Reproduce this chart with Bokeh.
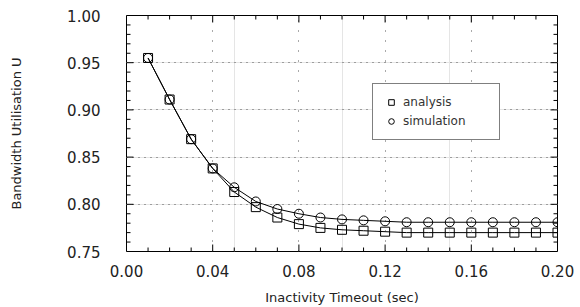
from bokeh.plotting import figure
from bokeh.models import (LinearAxis, Range1d, FixedTicker, Legend, LegendItem,
                          NumeralTickFormatter, Grid)
from bokeh.embed import file_html
from bokeh.resources import INLINE
import math

timeout = [0.01, 0.02, 0.03, 0.04, 0.05, 0.06, 0.07, 0.08, 0.09, 0.10,
           0.11, 0.12, 0.13, 0.14, 0.15, 0.16, 0.17, 0.18, 0.19, 0.20]
analysis = [0.955, 0.911, 0.869, 0.838, 0.813, 0.797, 0.786, 0.779, 0.775, 0.773,
            0.772, 0.771, 0.770, 0.770, 0.770, 0.770, 0.770, 0.770, 0.770, 0.770]
simulation = [0.955, 0.911, 0.869, 0.838, 0.818, 0.803, 0.795, 0.790, 0.786, 0.784,
              0.783, 0.782, 0.781, 0.781, 0.781, 0.781, 0.781, 0.781, 0.781, 0.781]
x_ticks = [0.00, 0.04, 0.08, 0.12, 0.16, 0.20]
y_ticks = [0.75, 0.80, 0.85, 0.90, 0.95, 1.00]
x_minor = [0.01, 0.02, 0.03, 0.05, 0.06, 0.07, 0.09, 0.10, 0.11,
           0.13, 0.14, 0.15, 0.17, 0.18, 0.19]
y_minor = [0.76, 0.77, 0.78, 0.79, 0.81, 0.82, 0.83, 0.84, 0.86, 0.87, 0.88, 0.89,
           0.91, 0.92, 0.93, 0.94, 0.96, 0.97, 0.98, 0.99]
x_lo, x_hi = 0.0, 0.2
y_lo, y_hi = 0.75, 1.0

FONT = "DejaVu Sans"

p = figure(frame_width=431, frame_height=236, output_backend="svg",
           toolbar_location=None, x_range=Range1d(x_lo, x_hi), y_range=Range1d(y_lo, y_hi),
           min_border_left=126, min_border_top=15, min_border_right=20, min_border_bottom=50,
           x_axis_location=None, y_axis_location=None)
p.outline_line_color = "black"
p.outline_line_width = 1
p.background_fill_color = "white"
p.border_fill_color = "white"

def make_axis(ticks):
    ax = LinearAxis(ticker=FixedTicker(ticks=ticks),
                    formatter=NumeralTickFormatter(format="0.00"))
    ax.major_tick_in = 0
    ax.major_tick_out = 0
    ax.minor_tick_in = 0
    ax.minor_tick_out = 0
    ax.axis_line_color = None
    ax.major_label_text_font = FONT
    ax.major_label_text_font_size = "15px"
    ax.major_label_text_color = "#222222"
    ax.axis_label_text_font = FONT
    ax.axis_label_text_font_size = "13px"
    ax.axis_label_text_font_style = "normal"
    ax.axis_label_text_color = "#222222"
    return ax

xb = make_axis(x_ticks)
xb.major_label_standoff = 13
xb.axis_label = "Inactivity Timeout (sec)"
xb.axis_label_standoff = 10
p.add_layout(xb, "below")

yl = make_axis(y_ticks)
yl.major_label_standoff = 26
yl.axis_label = "Bandwidth Utilisation U"
yl.axis_label_standoff = 40
p.add_layout(yl, "left")

gx = Grid(dimension=0, ticker=FixedTicker(ticks=x_ticks), grid_line_color="#555555",
          grid_line_dash="1 9", grid_line_width=1)
gy = Grid(dimension=1, ticker=FixedTicker(ticks=y_ticks), grid_line_color="#555555",
          grid_line_dash="1 5", grid_line_width=1)
p.add_layout(gx)
p.add_layout(gy)

# inward tick marks on all four sides, drawn as short rays in screen units
for ticks, ln in ((x_ticks, 7), (x_minor, 4)):
    p.ray(x=ticks, y=[y_lo] * len(ticks), length=ln, length_units="screen",
          angle=math.pi / 2, line_color="black", line_width=1)
    p.ray(x=ticks, y=[y_hi] * len(ticks), length=ln, length_units="screen",
          angle=-math.pi / 2, line_color="black", line_width=1)
for ticks, ln in ((y_ticks, 7), (y_minor, 4)):
    p.ray(x=[x_lo] * len(ticks), y=ticks, length=ln, length_units="screen",
          angle=0, line_color="black", line_width=1)
    p.ray(x=[x_hi] * len(ticks), y=ticks, length=ln, length_units="screen",
          angle=math.pi, line_color="black", line_width=1)

l1 = p.line(timeout, analysis, line_color="black", line_width=1)
s1 = p.scatter(timeout, analysis, marker="square", size=9, fill_color=None,
               line_color="black", line_width=1)
l2 = p.line(timeout, simulation, line_color="black", line_width=1)
s2 = p.scatter(timeout, simulation, marker="circle", size=9, fill_color=None,
               line_color="black", line_width=1)

legend = Legend(items=[LegendItem(label="analysis", renderers=[s1]),
                       LegendItem(label="simulation", renderers=[s2])],
                location=(246, 111))
legend.border_line_color = "black"
legend.border_line_width = 1
legend.label_text_font = FONT
legend.label_text_font_size = "12px"
legend.label_text_color = "#333333"
legend.glyph_width = 14
legend.glyph_height = 14
legend.padding = 11
legend.spacing = 5
legend.label_width = 85
legend.margin = 0
legend.background_fill_alpha = 1
p.add_layout(legend, "center")

open("out.html", "w").write(file_html(p, INLINE))
